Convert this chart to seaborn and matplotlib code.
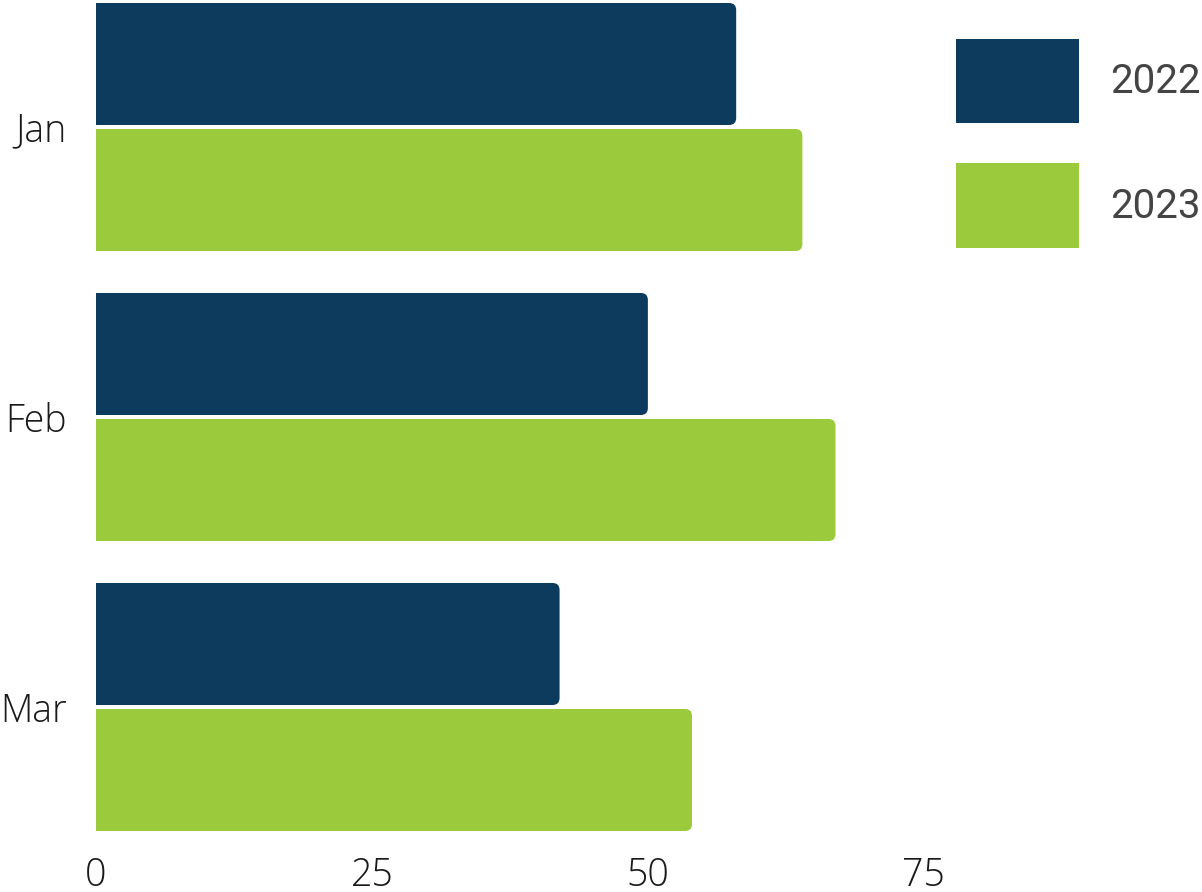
import matplotlib
matplotlib.use("Agg")
import matplotlib.pyplot as plt
from matplotlib.patches import FancyBboxPatch, Patch
import seaborn as sns
import pandas as pd

# Monthly values per year
months = ["Jan", "Feb", "Mar"]
years = ["2022", "2023"]
values_2022 = [58, 50, 42]
values_2023 = [64, 67, 54]
colors = {"2022": "#0d3b5e", "2023": "#9bcb3c"}
x_ticks = [0, 25, 50, 75]

df = pd.DataFrame({
    "month": months * 2,
    "year": [years[0]] * 3 + [years[1]] * 3,
    "value": values_2022 + values_2023,
})

sns.set_theme(style="white")
plt.rcParams["font.family"] = ["Open Sans", "DejaVu Sans"]

W, H = 1202, 892
fig = plt.figure(figsize=(W / 100, H / 100), dpi=100)
# axes placed in pixel terms
left_px, right_px, top_px, bot_px = 96, 979, 1, 833
ax = fig.add_axes([left_px / W, 1 - bot_px / H, (right_px - left_px) / W, (bot_px - top_px) / H])

width = 0.869
sns.barplot(data=df, y="month", x="value", hue="year", order=months, hue_order=years,
            palette=colors, saturation=1, orient="h", width=width, legend=False, ax=ax)

xmax = 80
half = width / 2
ax.set_xlim(0, xmax)
ax.set_ylim(len(months) - 1 + half, -half)

# Rebuild bars with rounded right ends (left end is clipped at the axis)
px_x = (right_px - left_px) / xmax
px_y = (bot_px - top_px) / (len(months) - 1 + 2 * half)
shrink = 2 / px_y
radius = 7 / px_x
aspect = (1 / px_y) / (1 / px_x)
for p in list(ax.patches):
    x0, y0 = p.get_x(), p.get_y()
    w, h = p.get_width(), p.get_height()
    fc = p.get_facecolor()
    p.remove()
    box = FancyBboxPatch((x0 - 2, y0 + shrink), w + 2, h - 2 * shrink,
                         boxstyle=f"round,pad=0,rounding_size={radius}",
                         mutation_aspect=aspect, facecolor=fc, edgecolor="none",
                         linewidth=0, clip_on=True)
    ax.add_patch(box)

for s in ax.spines.values():
    s.set_visible(False)
ax.set_xlabel("")
ax.set_ylabel("")
ax.set_xticks(x_ticks)
ax.set_xticklabels([str(t) for t in x_ticks])
ax.tick_params(axis="both", length=0, labelsize=27, labelcolor="#1a1a1a")
ax.tick_params(axis="y", pad=21)
ax.tick_params(axis="x", pad=17)
for lab in ax.get_xticklabels() + ax.get_yticklabels():
    lab.set_fontweight("light")

handles = [Patch(facecolor=colors[y], edgecolor="none", label=y) for y in years]
leg = fig.legend(handles=handles, loc="upper left", bbox_to_anchor=(956 / W, 1 - 39 / H),
                 frameon=False, borderpad=0, borderaxespad=0,
                 handlelength=3.05, handleheight=2.84, handletextpad=0.78,
                 labelspacing=1.0,
                 prop={"family": ["Roboto", "DejaVu Sans"], "size": 29})
for t in leg.get_texts():
    t.set_color("#444444")

fig.savefig("out.png", dpi=100)
